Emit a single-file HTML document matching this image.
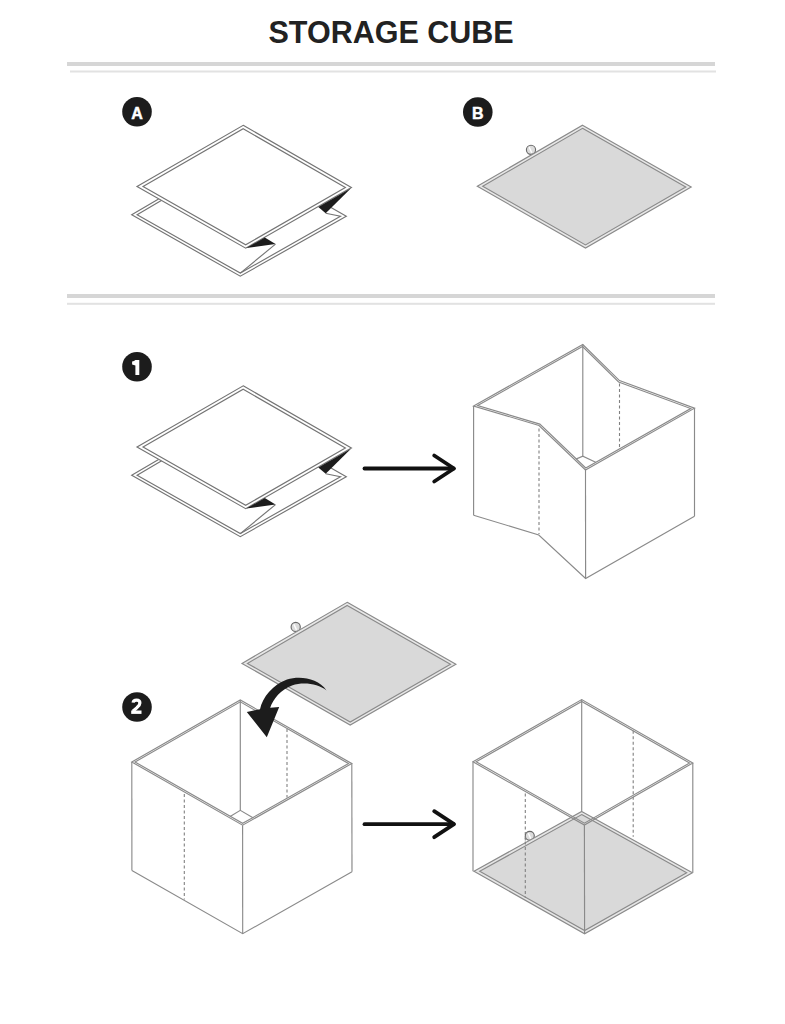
<!DOCTYPE html>
<html><head><meta charset="utf-8"><style>
html,body{margin:0;padding:0;background:#fff;}
body{width:785px;height:1024px;overflow:hidden;position:relative;}
svg{position:absolute;left:0;top:0;}
.ln{stroke:#8a8a8a;stroke-width:1.15;fill:none;}
.nf{fill:none;}
.dk{stroke:#747474;}
.wf{fill:#fff;}
.dsh{stroke:#808080;stroke-width:1.1;stroke-dasharray:3 2.5;}
.blk{fill:#1c1c1c;stroke:none;}
.arr line,.arr polyline{stroke:#111;stroke-width:3.8;stroke-linecap:round;stroke-linejoin:round;}
.bt{font-family:"Liberation Sans",sans-serif;font-weight:bold;font-size:16px;fill:#fff;stroke:#fff;stroke-width:0.45;text-anchor:middle;}
.title{font-family:"Liberation Sans",sans-serif;font-weight:bold;font-size:30.5px;fill:#222;}
</style></head><body>
<svg width="785" height="1024" viewBox="0 0 785 1024">
<text x="268.5" y="42.5" class="title">STORAGE CUBE</text>
<rect x="67" y="62" width="648" height="4" fill="#d6d6d6"/>
<rect x="70" y="70.5" width="646" height="2" style="fill:#e2e2e2"/>
<rect x="67" y="294" width="648" height="4" fill="#d6d6d6"/>
<rect x="67" y="302.8" width="648" height="2" style="fill:#e2e2e2"/>
<polyline points="158.60,199.10 131.70,214.80 240.30,276.20 346.30,216.30 331.00,207.60" class="ln dk nf" />
<polyline points="161.70,200.20 137.10,214.80 240.30,273.10 340.50,216.30 325.70,213.20" class="ln dk nf" />
<line x1="275.50" y1="244.10" x2="240.30" y2="273.10" class="ln dk" />
<polygon points="243.20,125.30 351.40,187.50 245.70,248.20 137.00,186.40" class="ln dk wf" />
<polygon points="243.20,128.76 345.38,187.50 245.69,244.74 143.04,186.38" class="ln dk nf" />
<polygon points="351.00,188.30 318.30,206.90 325.70,213.20" class="blk" />
<polygon points="246.40,247.90 264.80,237.60 275.50,244.10" class="blk" />
<polyline points="158.60,459.60 131.70,475.30 240.30,536.70 346.30,476.80 331.00,468.10" class="ln dk nf" />
<polyline points="161.70,460.70 137.10,475.30 240.30,533.60 340.50,476.80 325.70,473.70" class="ln dk nf" />
<line x1="275.50" y1="504.60" x2="240.30" y2="533.60" class="ln dk" />
<polygon points="243.20,385.80 351.40,448.00 245.70,508.70 137.00,446.90" class="ln dk wf" />
<polygon points="243.20,389.26 345.38,448.00 245.69,505.24 143.04,446.88" class="ln dk nf" />
<polygon points="351.00,448.80 318.30,467.40 325.70,473.70" class="blk" />
<polygon points="246.40,508.40 264.80,498.10 275.50,504.60" class="blk" />
<circle cx="531.00" cy="149.80" r="4.6" class="ln" style="fill:#dcdcdc;stroke:#6a6a6a"/>
<path d="M529.20,147.20 L531.80,152.80" style="stroke:#fff;stroke-width:1.4;fill:none"/>
<polygon points="582.50,125.20 691.20,187.10 585.50,248.00 477.30,186.30" class="ln" style="fill:#e8e8e8"/>
<polygon points="582.51,128.31 685.77,187.11 585.49,244.89 482.71,186.28" class="ln" style="fill:#d9d9d9"/>
<circle cx="295.70" cy="626.90" r="4.6" class="ln" style="fill:#dcdcdc;stroke:#6a6a6a"/>
<path d="M293.90,624.30 L296.50,629.90" style="stroke:#fff;stroke-width:1.4;fill:none"/>
<polygon points="347.20,602.30 455.90,664.20 350.20,725.10 242.00,663.40" class="ln" style="fill:#e8e8e8"/>
<polygon points="347.21,605.41 450.47,664.21 350.19,721.99 247.41,663.38" class="ln" style="fill:#d9d9d9"/>
<polygon points="473.60,406.00 582.80,344.50 619.50,380.60 694.50,408.20 585.50,470.00 539.00,425.50" class="ln wf" />
<polygon points="477.67,405.54 582.54,346.48 618.62,381.98 690.71,408.51 585.75,468.02 539.83,424.08" class="ln nf" />
<line x1="582.80" y1="344.50" x2="582.80" y2="456.20" class="ln" />
<polyline points="575.90,459.10 582.80,456.20 595.70,462.30" class="ln nf" />
<line x1="473.60" y1="406.00" x2="473.60" y2="515.20" class="ln" />
<line x1="694.50" y1="408.20" x2="694.50" y2="516.30" class="ln" />
<line x1="585.50" y1="470.00" x2="585.60" y2="578.50" class="ln" />
<polyline points="473.60,515.20 538.80,535.00 585.60,578.50 694.50,516.30" class="ln nf" />
<line x1="539.00" y1="428.50" x2="539.00" y2="534.00" class="dsh" />
<line x1="619.50" y1="383.50" x2="619.50" y2="448.50" class="dsh" />
<polygon points="131.80,762.00 240.30,700.00 351.80,763.60 242.60,825.20" class="ln wf" />
<polygon points="135.03,762.00 240.30,701.84 348.56,763.59 242.60,823.36" class="ln nf" />
<line x1="240.30" y1="700.00" x2="240.30" y2="810.30" class="ln" />
<polyline points="230.10,816.60 240.30,810.30 253.40,817.90" class="ln nf" />
<line x1="131.80" y1="762.00" x2="131.90" y2="870.50" class="ln" />
<line x1="351.80" y1="763.60" x2="352.00" y2="871.80" class="ln" />
<line x1="242.60" y1="825.20" x2="242.70" y2="933.70" class="ln" />
<polyline points="131.90,870.50 242.70,933.70 352.00,871.80" class="ln nf" />
<line x1="184.30" y1="794.00" x2="184.30" y2="899.50" class="dsh" />
<line x1="287.00" y1="729.00" x2="287.00" y2="797.50" class="dsh" />
<line x1="473.00" y1="761.80" x2="473.00" y2="871.30" class="ln" />
<line x1="692.80" y1="763.00" x2="692.80" y2="872.40" class="ln" />
<line x1="581.70" y1="699.60" x2="581.70" y2="811.40" class="ln" />
<line x1="525.30" y1="793.50" x2="525.30" y2="897.70" class="dsh" />
<line x1="633.20" y1="730.80" x2="633.20" y2="836.70" class="dsh" />
<circle cx="529.8" cy="835.8" r="4.5" class="ln" style="fill:#dcdcdc;stroke:#6a6a6a"/>
<path d="M528.3,833.2 L530.8,838.6" style="stroke:#fff;stroke-width:1.4;fill:none"/>
<polygon points="581.70,811.40 692.40,872.80 584.60,933.80 474.00,871.30" class="ln" style="fill:#e6e6e6"/>
<polygon points="581.70,814.60 686.67,872.82 584.60,930.58 479.73,871.32" class="ln" style="fill:#d9d9d9"/>
<line x1="525.30" y1="836.00" x2="525.30" y2="897.70" class="dsh" />
<line x1="584.40" y1="825.00" x2="584.60" y2="933.80" class="ln" />
<polygon points="473.00,761.80 581.70,699.60 692.80,763.00 584.40,825.00" class="ln nf" />
<polygon points="476.23,761.79 581.70,701.44 689.57,763.00 584.40,823.16" class="ln nf" />
<g class="arr"><line x1="364.5" y1="468.5" x2="453.5" y2="468.5"/><polyline points="434.2,455.5 454,468.5 434.2,481.5" style="fill:none"/></g>
<g class="arr"><line x1="364.5" y1="824.2" x2="453.5" y2="824.2"/><polyline points="434.2,811.2 454,824.2 434.2,837.2" style="fill:none"/></g>
<path class="blk" d="M326.6,690.4 C318,678 300,675.5 287,679.5 C273,684.5 262.5,697 260,709.3 L246.8,712 L266.8,737.2 L279.2,707 L270.2,707.8 C273,699 281,689.5 292,685.5 C304,681.5 318,684 326.6,690.4 Z"/>
<circle cx="137" cy="111.8" r="14.8" fill="#1c1c1c"/><text x="137.1" y="118.6" class="bt">A</text>
<circle cx="477.8" cy="112" r="14.8" fill="#1c1c1c"/><text x="477.90000000000003" y="118.6" class="bt">B</text>
<circle cx="137" cy="366.8" r="14.8" fill="#1c1c1c"/>
<path d="M135.4,360 L139.3,360 L139.3,374.9 L135.4,374.9 L135.4,365.6 C134.4,365.4 133.2,364.9 132.1,364.5 L132.1,361.6 C133.4,361.3 134.7,360.8 135.4,360 Z" fill="#fff"/>
<circle cx="137" cy="707" r="14.8" fill="#1c1c1c"/>
<path d="M133.1,702.6 C133.3,700.9 134.6,700.1 136.6,700.1 C138.6,700.1 139.9,701.4 139.9,703.1 C139.9,705.0 138.6,706.3 137.0,707.6 L132.9,711.3" style="fill:none;stroke:#fff;stroke-width:3.2;stroke-linecap:butt;stroke-linejoin:miter"/>
<rect x="131.2" y="710.5" width="10.3" height="3.4" fill="#fff"/>
</svg>
</body></html>
